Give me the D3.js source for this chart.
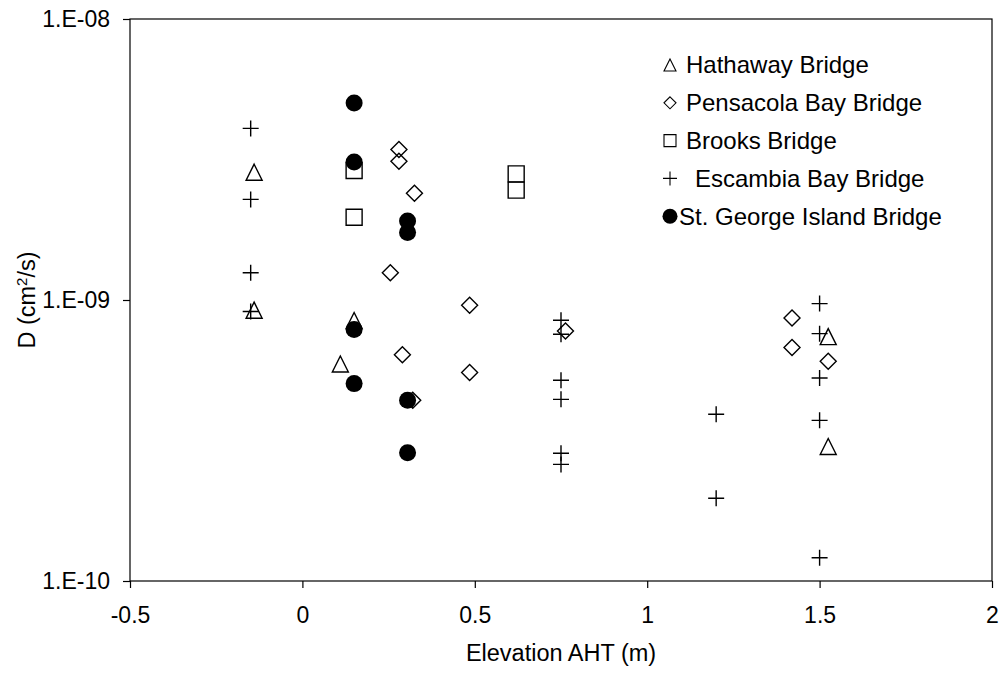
<!DOCTYPE html>
<html>
<head>
<meta charset="utf-8">
<script src="https://cdn.jsdelivr.net/npm/d3@7"></script>
<style>
  body { margin: 0; background: #fff; }
  svg text { font-family: "Liberation Sans", Arial, sans-serif; fill: #000; }
</style>
</head>
<body>
<svg id="chart" width="1006" height="673"></svg>
<script>
// series data: [elevation (m), D (cm2/s)]
var hathaway = [[-0.14, 2.85e-9], [-0.14, 9.2e-10], [0.15, 8.45e-10], [0.11, 5.92e-10],
  [1.525, 7.41e-10], [1.525, 3.01e-10]];
var pensacola = [[0.28, 3.43e-9], [0.28, 3.12e-9], [0.325, 2.40e-9], [0.255, 1.25e-9],
  [0.485, 9.57e-10], [0.485, 5.52e-10], [0.29, 6.39e-10], [0.32, 4.40e-10],
  [0.763, 7.76e-10], [1.42, 8.63e-10], [1.42, 6.77e-10], [1.525, 6.05e-10]];
var brooks = [[0.15, 2.89e-9], [0.15, 1.97e-9], [0.62, 2.81e-9], [0.62, 2.46e-9]];
var escambia = [[-0.15, 4.08e-9], [-0.15, 2.28e-9], [-0.15, 1.25e-9], [-0.15, 9.1e-10],
  [0.75, 8.47e-10], [0.75, 7.55e-10], [0.75, 5.18e-10], [0.75, 4.43e-10], [0.75, 2.85e-10], [0.75, 2.60e-10],
  [1.2, 3.92e-10], [1.2, 1.97e-10],
  [1.5, 9.71e-10], [1.5, 7.59e-10], [1.5, 5.28e-10], [1.5, 3.73e-10], [1.5, 1.21e-10]];
var stGeorge = [[0.15, 5.02e-9], [0.15, 3.10e-9], [0.305, 1.91e-9], [0.305, 1.74e-9],
  [0.15, 7.85e-10], [0.15, 5.04e-10], [0.305, 4.40e-10], [0.305, 2.86e-10]];

var seriesNames = ["Hathaway Bridge", "Pensacola Bay Bridge", "Brooks Bridge", "Escambia Bay Bridge", "St. George Island Bridge"];
var seriesData = [hathaway, pensacola, brooks, escambia, stGeorge];
var seriesMarkers = ["triangle", "diamond", "square", "plus", "circle"];

var xTicks = [-0.5, 0, 0.5, 1, 1.5, 2];
var yTicks = [1e-10, 1e-9, 1e-8];
var yTickLabels = ["1.E-10", "1.E-09", "1.E-08"];

var svg = d3.select("#chart");
var plotLeft = 130, plotRight = 992, plotTop = 19, plotBottom = 581;

var x = d3.scaleLinear().domain([-0.5, 2]).range([plotLeft, plotRight]);
var y = d3.scaleLog().domain([1e-10, 1e-8]).range([plotBottom, plotTop]);

// marker outline around (0,0), s = full width
function markerPath(type, s) {
  var h = s / 2;
  switch (type) {
    case "triangle": return "M0," + (-h) + "L" + h + "," + h + "L" + (-h) + "," + h + "Z";
    case "diamond": return "M0," + (-h) + "L" + h + ",0L0," + h + "L" + (-h) + ",0Z";
    case "square": return "M" + (-h) + "," + (-h) + "H" + h + "V" + h + "H" + (-h) + "Z";
    case "plus": return "M" + (-h) + ",0H" + h + "M0," + (-h) + "V" + h;
    case "circle": return d3.arc()({innerRadius: 0, outerRadius: h, startAngle: 0, endAngle: 2 * Math.PI});
  }
}

// frame
svg.append("rect")
  .attr("x", plotLeft).attr("y", plotTop)
  .attr("width", plotRight - plotLeft).attr("height", plotBottom - plotTop)
  .attr("fill", "none").attr("stroke", "#000").attr("stroke-width", 1.2);

svg.append("g")
  .attr("transform", "translate(" + plotLeft + ",0)")
  .call(d3.axisLeft(y).tickValues(yTicks).tickSize(7).tickPadding(13)
    .tickFormat(function(d, i) { return yTickLabels[i]; }));

svg.append("g")
  .attr("transform", "translate(0," + plotBottom + ")")
  .call(d3.axisBottom(x).tickValues(xTicks).tickSize(7).tickPadding(19)
    .tickFormat(function(d) { return String(d); }));

svg.selectAll(".tick text").style("font-size", "23px")
  .style("font-family", "'Liberation Sans', Arial, sans-serif");
svg.selectAll(".domain").remove();
svg.selectAll(".tick line").attr("stroke", "#000").attr("stroke-width", 1.2);

// axis titles
svg.append("text")
  .attr("x", (plotLeft + plotRight) / 2).attr("y", 661)
  .attr("text-anchor", "middle")
  .style("font-size", "23.5px")
  .text("Elevation AHT (m)");

var yTitle = svg.append("text")
  .attr("transform", "translate(35," + ((plotTop + plotBottom) / 2) + ") rotate(-90)")
  .attr("text-anchor", "middle")
  .style("font-size", "23.5px");
yTitle.append("tspan").text("D (cm");
yTitle.append("tspan").attr("dy", "-8").style("font-size", "15px").text("2");
yTitle.append("tspan").attr("dy", "8").text("/s)");

// points
seriesData.forEach(function(data, i) {
  var type = seriesMarkers[i];
  svg.append("g").selectAll("path")
    .data(data)
    .enter().append("path")
    .attr("transform", function(d) { return "translate(" + x(d[0]) + "," + y(d[1]) + ")"; })
    .attr("d", markerPath(type, type == "circle" ? 17 : 16))
    .attr("fill", type == "circle" ? "#000" : "none")
    .attr("stroke", "#000")
    .attr("stroke-width", type == "circle" ? 0 : 1.4);
});

// legend
var legendTextX = [686, 686, 686, 695, 679];
var legendSize = [12, 12, 12, 14, 15];
var legend = svg.append("g").selectAll("g")
  .data(seriesNames)
  .enter().append("g")
  .attr("transform", function(d, i) { return "translate(670," + (65 + i * 37.8) + ")"; });

legend.append("path")
  .attr("d", function(d, i) { return markerPath(seriesMarkers[i], legendSize[i]); })
  .attr("fill", function(d, i) { return seriesMarkers[i] == "circle" ? "#000" : "none"; })
  .attr("stroke", "#000")
  .attr("stroke-width", function(d, i) { return seriesMarkers[i] == "circle" ? 0 : 1.1; });

legend.append("text")
  .attr("x", function(d, i) { return legendTextX[i] - 670; })
  .attr("dy", "0.35em")
  .style("font-size", "24px")
  .text(function(d) { return d; });
</script>
</body>
</html>
